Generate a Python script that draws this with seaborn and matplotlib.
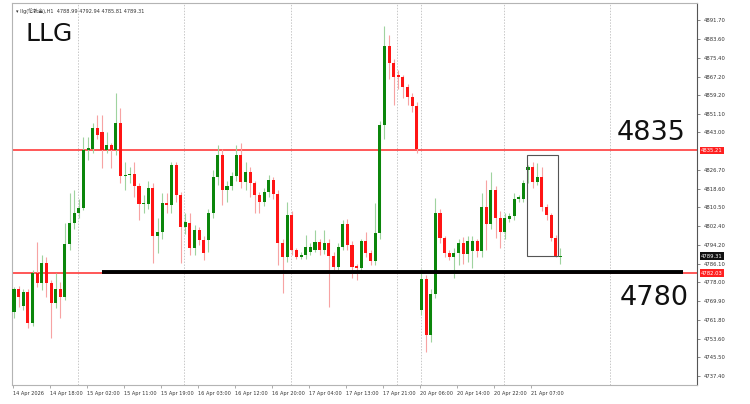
import numpy as np
import matplotlib
matplotlib.use("Agg")
import matplotlib.pyplot as plt
import matplotlib.transforms as mtransforms
from matplotlib.patches import Rectangle
import seaborn as sns

# H1 candles (open, high, low, close)
opens = [4765.1, 4775.1, 4767.7, 4773.8, 4760.3, 4782.0, 4777.7, 4786.4, 4777.7, 4769.0,
         4775.1, 4771.6, 4794.6, 4803.7, 4808.0, 4810.2, 4835.3, 4835.8, 4844.9, 4843.1,
         4835.3, 4837.5, 4835.3, 4847.0, 4824.0, 4824.5, 4825.0, 4819.7, 4812.0, 4812.0,
         4819.0, 4798.3, 4799.8, 4812.4, 4811.5, 4828.8, 4815.8, 4802.0, 4803.7, 4792.9,
         4800.7, 4796.3, 4796.3, 4808.0, 4823.6, 4833.2, 4818.0, 4819.7, 4824.1, 4833.2,
         4821.5, 4825.8, 4821.0, 4815.8, 4812.8, 4817.1, 4822.3, 4816.3, 4795.0, 4789.0,
         4807.2, 4792.0, 4789.0, 4789.8, 4791.1, 4792.0, 4795.5, 4792.0, 4795.0, 4789.4,
         4784.6, 4793.3, 4803.3, 4794.2, 4785.1, 4784.2, 4795.9, 4790.7, 4787.2, 4799.4,
         4846.2, 4880.4, 4873.1, 4867.9, 4867.0, 4862.7, 4858.3, 4854.4, 4766.0, 4779.4,
         4755.1, 4772.9, 4808.0, 4797.2, 4790.7, 4789.0, 4790.7, 4795.0, 4790.3, 4791.6,
         4795.9, 4791.6, 4810.6, 4803.3, 4818.0, 4805.8, 4799.8, 4805.4, 4806.7, 4814.1,
         4814.1, 4826.5, 4827.9, 4821.5, 4823.6, 4810.6, 4807.2, 4797.2, 4788.99]
highs = [4776.0, 4776.5, 4775.0, 4775.0, 4783.5, 4795.5, 4789.8, 4789.0, 4779.0, 4782.0,
         4778.0, 4803.7, 4816.7, 4818.0, 4814.0, 4841.0, 4841.0, 4847.0, 4850.5, 4850.5,
         4843.0, 4838.5, 4860.0, 4853.6, 4830.0, 4828.0, 4830.0, 4821.0, 4816.0, 4822.0,
         4821.0, 4805.8, 4816.7, 4816.7, 4830.1, 4830.1, 4817.0, 4808.0, 4808.0, 4803.0,
         4802.0, 4798.0, 4810.0, 4826.7, 4837.5, 4836.0, 4822.0, 4826.0, 4837.5, 4838.4,
         4830.1, 4828.0, 4822.0, 4817.0, 4819.0, 4824.5, 4823.6, 4818.0, 4797.0, 4812.8,
         4809.0, 4793.0, 4791.0, 4798.5, 4795.0, 4800.7, 4797.0, 4800.7, 4797.0, 4791.0,
         4795.0, 4805.0, 4805.4, 4796.0, 4786.0, 4797.0, 4800.0, 4792.0, 4812.4, 4848.0,
         4889.0, 4885.2, 4875.0, 4870.0, 4868.0, 4864.0, 4860.0, 4856.0, 4784.0, 4781.0,
         4775.0, 4814.5, 4810.0, 4798.0, 4792.0, 4793.0, 4797.0, 4797.5, 4798.0, 4798.0,
         4797.0, 4816.7, 4822.3, 4825.8, 4819.7, 4809.0, 4808.0, 4808.0, 4816.7, 4816.0,
         4822.3, 4829.0, 4830.1, 4829.7, 4828.0, 4812.0, 4808.0, 4798.5, 4792.94]
lows = [4762.5, 4767.3, 4766.0, 4758.2, 4759.0, 4776.0, 4774.7, 4771.6, 4753.8, 4767.0,
        4762.5, 4770.5, 4792.0, 4801.0, 4806.0, 4809.3, 4831.0, 4834.0, 4840.0, 4827.5,
        4834.0, 4827.5, 4833.0, 4821.0, 4818.0, 4821.0, 4815.0, 4805.0, 4808.0, 4810.0,
        4786.4, 4790.7, 4797.0, 4808.0, 4808.0, 4813.0, 4786.4, 4799.0, 4789.8, 4790.0,
        4794.0, 4787.7, 4791.1, 4806.0, 4820.0, 4811.5, 4812.8, 4818.0, 4822.0, 4819.0,
        4818.0, 4815.0, 4808.0, 4808.0, 4811.0, 4815.0, 4814.0, 4785.5, 4773.4, 4787.0,
        4790.0, 4788.0, 4788.0, 4788.0, 4790.0, 4791.0, 4790.0, 4790.5, 4767.3, 4783.5,
        4783.5, 4792.0, 4792.0, 4779.9, 4779.0, 4782.5, 4789.0, 4785.5, 4785.5, 4797.0,
        4840.0, 4866.0, 4854.9, 4862.0, 4858.0, 4855.0, 4852.0, 4834.0, 4764.0, 4747.8,
        4752.0, 4771.0, 4795.0, 4789.0, 4787.5, 4779.9, 4785.5, 4786.0, 4787.0, 4784.2,
        4789.0, 4789.0, 4792.0, 4801.0, 4797.2, 4792.9, 4797.0, 4804.0, 4805.0, 4813.0,
        4813.0, 4821.0, 4819.0, 4820.0, 4809.0, 4805.0, 4796.0, 4789.0, 4785.81]
closes = [4775.1, 4771.6, 4773.8, 4760.3, 4782.0, 4777.7, 4786.4, 4777.7, 4769.0, 4775.1,
          4771.6, 4794.6, 4803.7, 4808.0, 4810.2, 4835.3, 4836.2, 4844.9, 4841.8, 4835.3,
          4837.5, 4835.3, 4847.0, 4824.1, 4824.5, 4825.0, 4819.7, 4812.0, 4812.4, 4819.0,
          4798.3, 4799.8, 4812.4, 4811.5, 4828.8, 4815.8, 4802.0, 4804.1, 4792.9, 4800.7,
          4796.3, 4790.7, 4808.0, 4823.6, 4833.2, 4818.0, 4819.7, 4824.1, 4833.2, 4821.5,
          4825.8, 4821.0, 4815.8, 4812.8, 4817.1, 4822.3, 4816.3, 4795.0, 4789.0, 4807.2,
          4792.0, 4789.0, 4789.8, 4793.3, 4793.3, 4795.5, 4792.0, 4795.0, 4789.4, 4784.6,
          4793.3, 4803.3, 4794.2, 4784.6, 4784.2, 4795.9, 4790.7, 4787.2, 4799.4, 4846.2,
          4880.4, 4873.1, 4867.0, 4867.0, 4862.7, 4858.3, 4854.4, 4835.8, 4779.4, 4755.1,
          4772.9, 4808.0, 4797.2, 4790.7, 4789.0, 4790.7, 4795.0, 4790.3, 4795.9, 4795.9,
          4791.6, 4810.6, 4803.3, 4818.0, 4805.8, 4799.8, 4805.8, 4806.7, 4814.1, 4814.9,
          4821.0, 4827.9, 4821.5, 4823.6, 4810.6, 4807.2, 4797.2, 4789.4, 4789.31]

date_labels = ["14 Apr 2026", "14 Apr 18:00", "15 Apr 02:00", "15 Apr 11:00", "15 Apr 19:00",
               "16 Apr 03:00", "16 Apr 12:00", "16 Apr 20:00", "17 Apr 04:00", "17 Apr 13:00",
               "17 Apr 21:00", "20 Apr 06:00", "20 Apr 14:00", "20 Apr 22:00", "21 Apr 07:00"]
label_bars = [0, 8, 16, 24, 32, 40, 48, 56, 64, 72, 80, 88, 96, 104, 112]

price_ticks = [4891.70, 4883.60, 4875.40, 4867.20, 4859.20, 4851.10, 4843.00, 4826.70,
               4818.60, 4810.50, 4802.40, 4794.20, 4786.10, 4778.00, 4769.90, 4761.80,
               4753.60, 4745.50, 4737.40]

resistance = 4835.21
support = 4782.03
support_drawn = 4782.4
last_price = 4789.31
header = "llg(伦敦金),H1  4788.99 4792.94 4785.81 4789.31"

sns.set_theme(style="white")
plt.rcParams["font.family"] = ["DejaVu Sans", "Noto Sans CJK SC"]

fig = plt.figure(figsize=(7.5, 4.04), dpi=100)
ax = fig.add_axes([12 / 750, 19 / 404, 685 / 750, 382 / 404])

o = np.array(opens)
h = np.array(highs)
l = np.array(lows)
c = np.array(closes)
x = np.arange(len(o))
up = c >= o

green = "#0b860b"
red = "#ff1414"

# vertical grid
for g in [13.8, 36.8, 59.8, 82.8, 87.9, 105.8, 128.8]:
    ax.axvline(g, color="#c8c8c8", lw=0.7, ls=(0, (1.5, 1.5)), zorder=0)

# levels
ax.axhline(resistance, color="#ff3b3b", lw=1.2, zorder=1)
ax.axhline(support, color="#ff3b3b", lw=1.2, zorder=1)

# wicks
ax.vlines(x[up], l[up], h[up], color="#9fd39f", lw=0.8, zorder=2)
ax.vlines(x[~up], l[~up], h[~up], color="#f7a3a3", lw=0.8, zorder=2)

# bodies
body = np.maximum(np.abs(c - o), 0.5)
bottom = np.minimum(o, c)
ax.bar(x[up], body[up], bottom=bottom[up], width=0.66, color=green, lw=0, zorder=3)
ax.bar(x[~up], body[~up], bottom=bottom[~up], width=0.66, color=red, lw=0, zorder=3)

# drawn support line
ax.hlines(support_drawn, 19, 144.5, color="black", lw=2.8, zorder=4)

# box around the last leg
ax.add_patch(Rectangle((110.7, 4789.4), 6.7, 4833.2 - 4789.4, fill=False,
                       ec="#555555", lw=0.8, zorder=5))

ax.set_xlim(-0.43, 147.5)
ax.set_ylim(4733.5, 4899.1)

# axes frame
for side in ["left", "bottom", "top"]:
    ax.spines[side].set_color("#b4b4b4")
    ax.spines[side].set_linewidth(0.8)
ax.spines["right"].set_color("#555555")
ax.spines["right"].set_linewidth(0.8)

ax.yaxis.tick_right()
ax.set_yticks(price_ticks)
ax.set_yticklabels([f"{p:.2f}" for p in price_ticks], fontsize=3.8, color="#333333")
ax.tick_params(axis="y", right=True, length=2, width=0.5, pad=3, color="#555555")

ax.set_xticks([b - 0.3 for b in label_bars])
ax.set_xticklabels(date_labels, fontsize=3.6, color="#333333", ha="left")
ax.tick_params(axis="x", bottom=True, length=2, width=0.5, pad=2, color="#888888")
ax.grid(False)

# price tags on the axis
trans = mtransforms.blended_transform_factory(ax.transAxes, ax.transData)
for val, bg in [(resistance, "#ff2020"), (support, "#ff2020"), (last_price, "#111111")]:
    ax.text(1.006, val, f"{val:.2f}", transform=trans, fontsize=3.8, color="white",
            va="center", ha="left", zorder=6,
            bbox=dict(boxstyle="square,pad=0.25", fc=bg, ec="none"))

# annotations
ax.text(2.4, 4885.6, "LLG", fontsize=18, va="center", ha="left", color="#111111")
ax.text(130.1, 4842.7, "4835", fontsize=19.5, va="center", ha="left", color="#111111")
ax.text(130.8, 4771.4, "4780", fontsize=19.5, va="center", ha="left", color="#111111")
ax.text(0.4, 4895.5, "▾ " + header, fontsize=3.6, va="center", ha="left", color="#333333")

fig.savefig("out.png", dpi=100, facecolor="white")
